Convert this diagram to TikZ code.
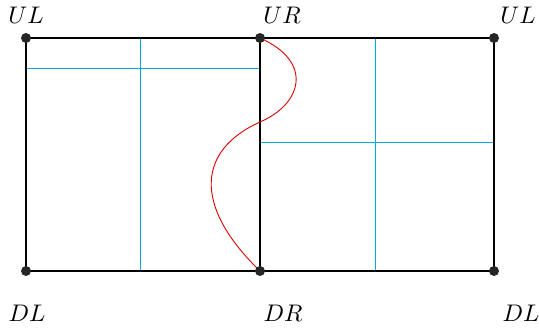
\documentclass[tikz,border=0pt]{standalone}
\begin{document}
\begin{tikzpicture}[x=1pt,y=-1pt,
  dot/.style={circle,fill=black!85,inner sep=0pt,minimum size=10pt},
  frame/.style={line width=1.8pt},
  grid/.style={draw={rgb,255:red,0;green,170;blue,220},line width=0.9pt},
  curve/.style={draw={rgb,255:red,220;green,0;blue,0},line width=0.9pt},
  lab/.style={scale=2.4}]
\useasboundingbox (0,0) rectangle (539,329);
% grid lines
\coordinate (lv1) at (140,38); \coordinate (lv2) at (140,271);
\coordinate (lh1) at (26,68); \coordinate (lh2) at (260,68);
\coordinate (rv1) at (375,38); \coordinate (rv2) at (375,271);
\coordinate (rh1) at (260,142); \coordinate (rh2) at (494,142);
\draw[grid] (lv1) -- (lv2);
\draw[grid] (lh1) -- (lh2);
\draw[grid] (rv1) -- (rv2);
\draw[grid] (rh1) -- (rh2);
% corners
\coordinate (a) at (26,38);
\coordinate (b) at (260,38);
\coordinate (c) at (494,38);
\coordinate (d) at (26,271);
\coordinate (e) at (260,271);
\coordinate (f) at (494,271);
\draw[frame] (a) -- (c) -- (f) -- (d) -- cycle;
\draw[frame] (b) -- (e);
% red curve
\coordinate (m) at (260,122);
\draw[curve] (b) .. controls (314,62) and (302,104) .. (m)
  .. controls (198,150) and (192,205) .. (e);
\foreach \p in {a,b,c,d,e,f} \node[dot] (dot\p) at (\p) {};
% labels
\node[lab] (l1) at (26,15) {$UL$};
\node[lab] (l2) at (282,15) {$UR$};
\node[lab] (l3) at (518,15) {$UL$};
\node[lab] (l4) at (27,313) {$DL$};
\node[lab] (l5) at (283,313) {$DR$};
\node[lab] (l6) at (521,313) {$DL$};
\end{tikzpicture}
\end{document}
